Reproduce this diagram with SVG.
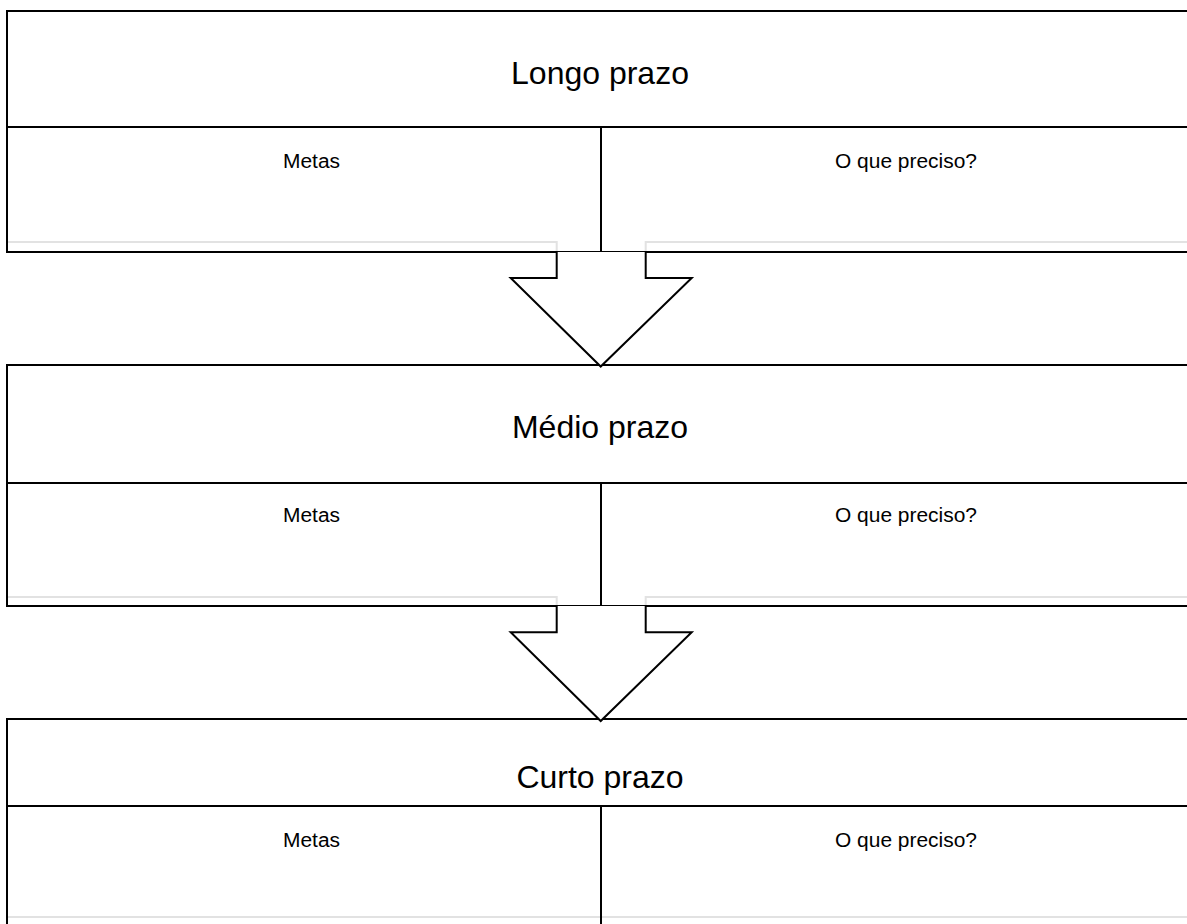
<svg xmlns="http://www.w3.org/2000/svg" width="1187" height="924" viewBox="0 0 1187 924">
<style>
.ln{stroke:#000;stroke-width:2;fill:none}
.gr{stroke:#e2e2e2;stroke-width:2;fill:none}
.ttl{font-family:"Liberation Sans",Arial,sans-serif;font-size:32px;fill:#000;text-anchor:middle}
.lbl{font-family:"Liberation Sans",Arial,sans-serif;font-size:20px;fill:#000;text-anchor:middle}
.arr{stroke:#000;stroke-width:2;fill:#fff;stroke-linejoin:miter}
</style>
<rect width="1187" height="924" fill="#fff"/>
<g id="block1">
<path class="gr" d="M7,242 H556.7 V252 M645.7,252 V242 H1187"/>
<path class="ln" d="M1187,11 H7 V252 H1187 M7,127 H1187 M601,127 V252"/>
<text class="ttl" x="600" y="84">Longo prazo</text>
<text class="lbl" x="311.5" y="168" textLength="57" lengthAdjust="spacingAndGlyphs">Metas</text>
<text class="lbl" x="906" y="168" textLength="142" lengthAdjust="spacingAndGlyphs">O que preciso?</text>
</g>
<g id="block2">
<path class="gr" d="M7,597 H556.7 V606 M645.7,606 V597 H1187"/>
<path class="ln" d="M1187,365 H7 V606 H1187 M7,483 H1187 M601,483 V606"/>
<text class="ttl" x="600" y="438">Médio prazo</text>
<text class="lbl" x="311.5" y="522" textLength="57" lengthAdjust="spacingAndGlyphs">Metas</text>
<text class="lbl" x="906" y="522" textLength="142" lengthAdjust="spacingAndGlyphs">O que preciso?</text>
</g>
<g id="block3">
<path class="gr" d="M7,917 H1187"/>
<path class="ln" d="M1187,719 H7 V924 M7,806 H1187 M601,806 V924"/>
<text class="ttl" x="600" y="788">Curto prazo</text>
<text class="lbl" x="311.5" y="847" textLength="57" lengthAdjust="spacingAndGlyphs">Metas</text>
<text class="lbl" x="906" y="847" textLength="142" lengthAdjust="spacingAndGlyphs">O que preciso?</text>
</g>
<g id="connectors">
<path class="arr" d="M556.7,252 V278 H510.7 L600.7,366.5 L691.7,278 H645.7 V252"/>
<path class="arr" d="M556.7,606 V632.3 H510.7 L600.7,721 L691.7,632.3 H645.7 V606"/>
</g>
</svg>
